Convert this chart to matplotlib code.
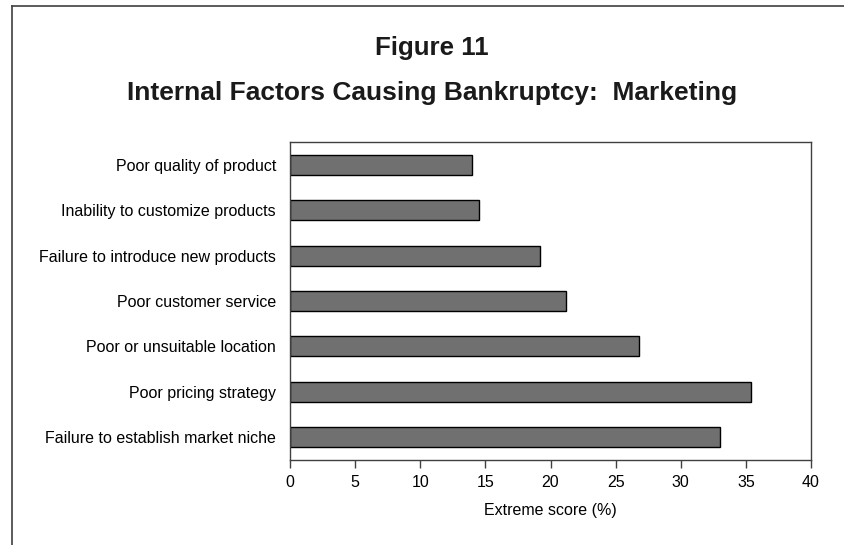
import matplotlib
matplotlib.use("Agg")
import matplotlib.pyplot as plt
from matplotlib.lines import Line2D

categories = [
    "Failure to establish market niche",
    "Poor pricing strategy",
    "Poor or unsuitable location",
    "Poor customer service",
    "Failure to introduce new products",
    "Inability to customize products",
    "Poor quality of product",
]
values = [33.0, 35.4, 26.8, 21.2, 19.2, 14.5, 14.0]
xticks = [0, 5, 10, 15, 20, 25, 30, 35, 40]

font = "Liberation Sans"
W, H = 844, 545
fig = plt.figure(figsize=(W / 100, H / 100), dpi=100)
ax = fig.add_axes([290 / W, 1 - 460 / H, (811 - 290) / W, (460 - 142) / H])

ax.barh(range(len(values)), values, height=0.44, color="#707070",
        edgecolor="black", linewidth=1.0)
ax.set_xlim(0, 40)
ax.set_ylim(-0.5, len(values) - 0.5)
ax.set_xticks(xticks)
ax.set_xticklabels([str(t) for t in xticks], fontfamily=font, fontsize=11.5)
ax.set_yticks(range(len(categories)))
ax.set_yticklabels(categories, fontfamily=font, fontsize=11.5)
ax.tick_params(axis="y", length=0, pad=10)
ax.tick_params(axis="x", direction="out", length=6, width=1, color="#404040", pad=5)
for s in ax.spines.values():
    s.set_color("#404040")
    s.set_linewidth(1.0)
ax.set_xlabel("Extreme score (%)", fontfamily=font, fontsize=11.5, labelpad=9)

fig.text(431.5 / W, 1 - 55 / H, "Figure 11", ha="center", va="baseline",
         fontfamily=font, fontweight="bold", fontsize=18.6, color="#1a1a1a")
fig.text(432 / W, 1 - 100 / H, "Internal Factors Causing Bankruptcy:  Marketing",
         ha="center", va="baseline", fontfamily=font,
         fontweight="bold", fontsize=19, color="#1a1a1a")

fig.add_artist(Line2D([12 / W, 12 / W], [0, 1 - 6 / H], color="#404040", lw=1.2,
                      transform=fig.transFigure))
fig.add_artist(Line2D([12 / W, 1], [1 - 6 / H, 1 - 6 / H], color="#404040", lw=1.2,
                      transform=fig.transFigure))

fig.savefig("out.png", dpi=100)
